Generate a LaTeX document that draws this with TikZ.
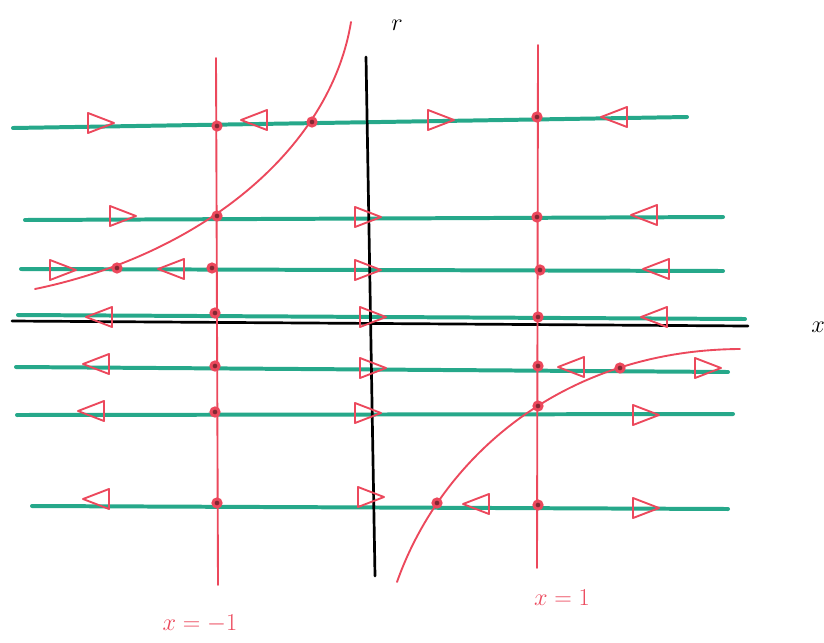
\documentclass[tikz,border=0pt]{standalone}
\usepackage{amsmath}
\usetikzlibrary{positioning}
\definecolor{flowgreen}{RGB}{38,168,138}
\definecolor{penred}{RGB}{236,72,92}
\tikzset{
  flow/.style={line width=3.4pt,flowgreen,line cap=round},
  fixline/.style={line width=1.6pt,penred,line cap=round},
  axisline/.style={line width=2.3pt,black,line cap=round},
  arrowtri/.style={line width=1.6pt,penred,line join=round},
}
\begin{document}
\begin{tikzpicture}[x=0.03cm,y=-0.03cm]
      \fill[white] (0,0) rectangle (824,642);
      \useasboundingbox (0,0) rectangle (824,642);
      % phase lines for fixed r (green)
      \foreach \xa/\ya/\xb/\yb in {13/128/687/117, 25/220/723/217, 21/269/723/271,
          18/315/745/319, 16/367/728/372, 17/415/733/414, 32/506/728/509}
        \draw[flow] (\xa,\ya) -- (\xb,\yb);
      % axes
      \draw[axisline] (12,321) -- (748,326);
      \draw[axisline] (366,57) -- (375,576);
      \node[font=\huge] (xlab) at (818,327) {$x$};
      \node[font=\huge] (rlab) at (397,25) {$r$};
      % fixed points x = -1 and x = 1 (red)
      \draw[fixline] (216,58) -- (218,585);
      \draw[fixline] (538,45) -- (537,568);
      \node[penred,font=\huge] (leftlab) at (200,624) {$x=-1$};
      \node[penred,font=\huge] (rightlab) at (562,598) {$x=1$};
      % third branch of fixed points (red curves)
      \draw[fixline] (35,289) .. controls (200,255) and (330,150) .. (351,22);
      \draw[fixline] (397,582) .. controls (440,460) and (560,350) .. (740,349);
      % flow direction to the right
      \foreach \cx/\cy in {100/123, 440/120, 122/216, 367/217, 62/270, 367/270, 372/317,
          372/368, 707/368, 367/413, 645/415, 370/497, 645/508}
        \draw[arrowtri,shift={(\cx,\cy)}] (-12,-10) -- (14,0) -- (-12,10) -- cycle;
      % flow direction to the left
      \foreach \cx/\cy in {255/120, 615/117, 645/215, 172/269, 657/269, 100/317, 655/317,
          97/364, 572/367, 92/411, 97/499, 477/504}
        \draw[arrowtri,shift={(\cx,\cy)}] (12,-10) -- (-14,0) -- (12,10) -- cycle;
      % fixed points on the phase lines
      \foreach \px/\py in {217/126, 312/122, 537/117, 217/216, 537/217, 117/268, 212/268,
          540/270, 215/313, 538/317, 215/366, 538/366, 620/368, 215/412, 538/406,
          217/503, 437/503, 538/505} {
        \fill[penred] (\px,\py) circle [radius=0.17cm];
        \fill[penred!55!black] (\px,\py) circle [radius=0.07cm];
      }
    \end{tikzpicture}
\end{document}
